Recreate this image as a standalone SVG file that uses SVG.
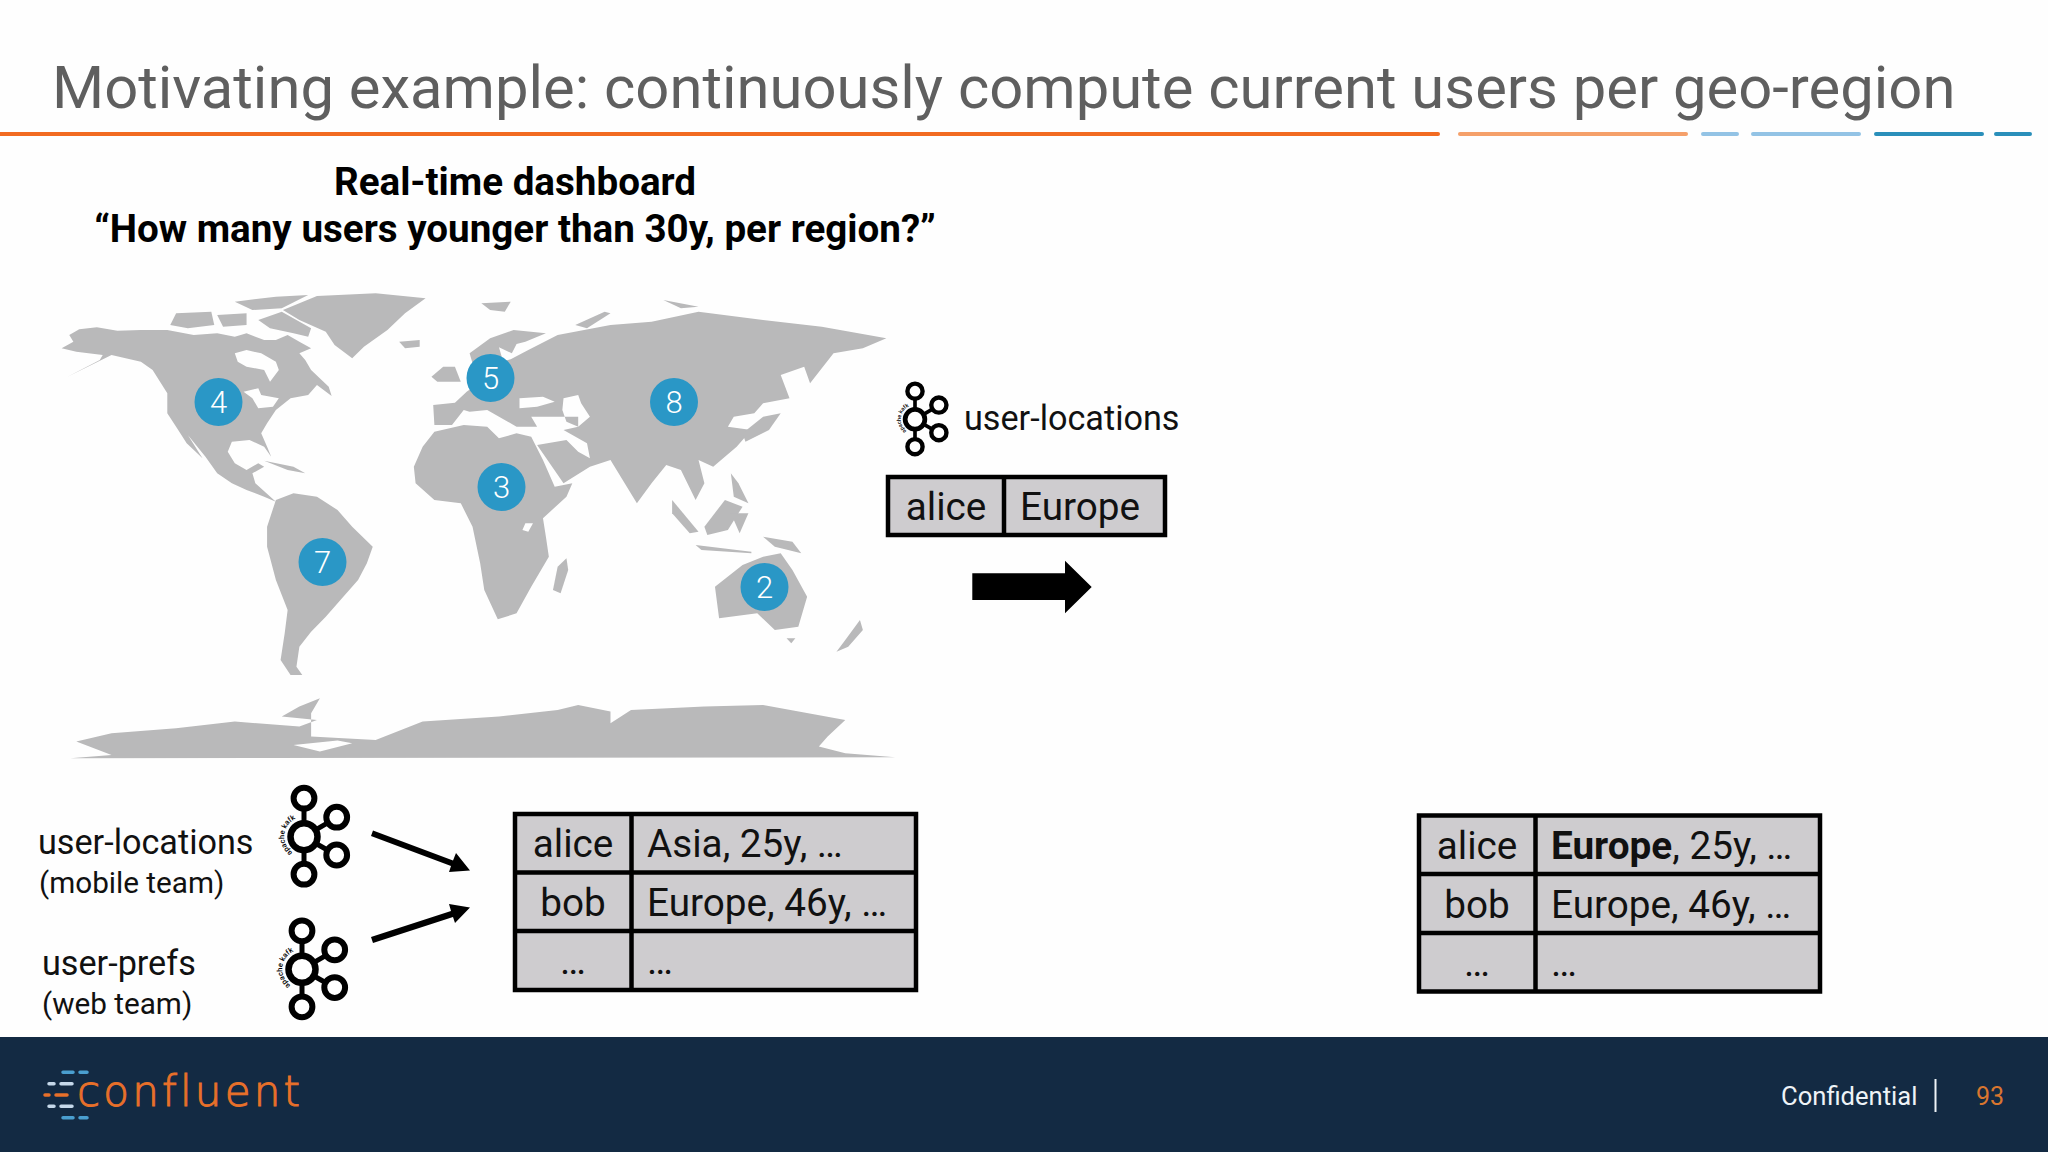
<svg xmlns="http://www.w3.org/2000/svg" width="2048" height="1152" viewBox="0 0 2048 1152">
<style>
text{font-family:Roboto,"Liberation Sans",sans-serif;fill:#111}
.title{font-size:59.750px;fill:#5f5f5f}
.sub{font-size:38.600px;font-weight:700;fill:#000;text-anchor:middle}
.lbl{font-size:34.200px}
.lbl2{font-size:29.700px}
.cell{font-size:38.700px}
.mid{text-anchor:middle}
.tb{fill:#cecccf;stroke:#000;stroke-width:4.500}
.ln{stroke:#000;stroke-width:4.500;fill:none}
.bar{stroke-width:4;stroke-linecap:round;fill:none}
.badge{fill:#2a97c6}
.num{font-size:31px;font-weight:300;fill:#fff;text-anchor:middle}
.k{fill:none;stroke:#000}
.kt{font-size:7.500px;font-weight:500;fill:#000}
.d{stroke-width:3.500;stroke-linecap:round}
</style>
<defs>
<path id="karc" d="M-11.500,16A19.700,19.700 0 0 1 -9,-17.500" fill="none"/>
<g id="kafka">
<path class="k" stroke-width="5" d="M0,-37V37M0,0L32.700,-19M0,0L32.700,18.500"/>
<circle cx="0" cy="0" r="13.500" fill="#fff" stroke="#000" stroke-width="6.500"/>
<circle cx="0" cy="-38.500" r="10.400" fill="#fff" stroke="#000" stroke-width="6"/>
<circle cx="0" cy="37.500" r="10.400" fill="#fff" stroke="#000" stroke-width="6"/>
<circle cx="32.700" cy="-19.500" r="10.400" fill="#fff" stroke="#000" stroke-width="6"/>
<circle cx="32.700" cy="18.300" r="10.400" fill="#fff" stroke="#000" stroke-width="6"/>
<text class="kt"><textPath href="#karc">apache kafka</textPath></text>
</g>
</defs>
<rect width="2048" height="1152" fill="#fefefe"/>
<g id="header">
<text class="title" x="52" y="108">Motivating example: continuously compute current users per geo-region</text>
<path class="bar" stroke="#f26b21" d="M0,134H1438"/>
<path class="bar" stroke="#f5a06a" d="M1460,134H1686"/>
<path class="bar" stroke="#93c3e5" d="M1703,134H1737M1753,134H1859"/>
<path class="bar" stroke="#2a8fba" d="M1876,134H1982M1996,134H2030"/>
</g>
<g id="dashboard-title">
<text class="sub" x="515" y="195">Real-time dashboard</text>
<text class="sub" x="515" y="242">“How many users younger than 30y, per region?”</text>
</g>
<g id="world-map" transform="translate(0,270) scale(0.587,0.3333)" fill="#b9b9ba" fill-rule="evenodd">
<path d="M105,235L125,215L118,195L135,178L165,172L200,182L240,180L285,180L330,195L370,190L400,200L420,190L450,210L470,210L490,195L510,215L530,235L510,250L520,270L530,300L560,350L565,378L540,345L525,375L495,385L470,420L455,460L445,490L455,530L462,560L450,530L425,510L395,515L388,545L400,580L420,600L440,580L450,590L430,610L435,640L470,695L450,680L420,660L395,640L370,610L350,560L320,495L345,565L318,520L300,470L285,430L285,370L260,300L240,275L190,255L115,320L170,270L175,255L130,245ZM400,250L420,240L445,250L470,275L475,300L460,335L450,300L420,290L405,275ZM415,365L440,355L445,375L475,385L465,410L440,415L430,385Z"/>
<path d="M470,690L500,670L540,680L575,720L600,770L635,830L625,880L610,930L580,990L555,1040L530,1085L510,1130L505,1190L515,1215L495,1215L478,1170L485,1090L490,1020L470,930L455,830L455,770Z"/>
<path d="M482,120L540,78L640,70L725,85L690,130L660,180L620,230L600,265L570,225L555,185L510,150Z"/>
<path d="M680,215L715,210L715,230L690,235Z"/>
<path d="M400,95L470,80L525,75L480,115L430,120Z"/>
<path d="M440,150L480,125L530,175L525,200L500,190L460,175Z"/>
<path d="M300,130L360,125L365,165L320,175L290,165Z"/>
<path d="M370,135L420,130L420,165L380,170Z"/>
<path d="M820,100L870,95L860,125L835,120Z"/>
<path d="M1130,90L1190,110L1160,115Z"/>
<path d="M980,165L1030,125L1040,130L1000,175Z"/>
<path d="M450,572L500,590L520,610L490,600Z"/>
<path d="M740,485L790,465L830,470L850,505L880,490L905,500L925,570L945,650L975,640L965,680L925,745L930,800L935,860L905,950L880,1030L848,1048L825,960L818,880L805,770L785,700L740,690L708,640L705,590L720,530ZM895,760L908,760L900,785L890,780Z"/>
<path d="M965,865L968,900L955,970L942,960L950,890Z"/>
<path d="M735,320L755,290L775,290L785,335L745,335Z"/>
<path d="M740,465L738,405L775,398L795,365L815,340L800,250L835,205L875,180L930,190L895,215L880,222L872,250L850,232L855,262L830,285L870,268L900,240L950,195L1040,165L1110,155L1190,125L1300,150L1400,170L1510,205L1470,235L1420,250L1380,340L1370,290L1330,315L1345,385L1300,400L1285,430L1250,440L1240,470L1280,480L1255,530L1215,590L1190,570L1200,640L1185,690L1160,600L1135,585L1110,640L1085,700L1040,570L1005,590L960,640L915,525L965,510L985,545L1005,565L1000,520L960,480L985,470L985,440L905,440L915,470L880,470L855,445L880,470L830,420L800,425L790,420L770,465ZM885,385L925,380L945,395L915,410L885,415ZM960,385L985,375L990,400L1005,440L985,470L965,455L958,420Z"/>
<path d="M1265,490L1300,440L1330,430L1310,480L1270,515Z"/>
<path d="M1145,690L1190,785L1175,790L1145,730Z"/>
<path d="M1200,770L1235,690L1265,710L1240,780L1205,795Z"/>
<path d="M1245,730L1275,730L1260,790Z"/>
<path d="M1300,800L1350,815L1365,850L1320,830Z"/>
<path d="M1185,825L1280,845L1280,850L1195,840Z"/>
<path d="M1245,610L1258,640L1275,700L1250,680Z"/>
<path d="M1218,950L1265,885L1300,860L1330,850L1350,900L1375,980L1360,1070L1320,1080L1290,1030L1225,1045Z"/>
<path d="M1340,1105L1355,1105L1348,1120Z"/>
<path d="M1465,1050L1470,1080L1445,1130L1425,1145L1440,1110Z"/>
<path d="M130,1415L190,1390L300,1375L400,1355L510,1370L540,1350L480,1340L510,1310L545,1285L530,1330L530,1400L640,1410L720,1355L850,1340L950,1320L985,1305L1040,1325L1040,1360L1075,1320L1200,1310L1300,1305L1440,1350L1410,1400L1395,1430L1440,1450L1525,1462L120,1465L190,1455L160,1435ZM500,1425L575,1412L600,1420L545,1445Z"/>
</g>
<g id="badge-4"><circle class="badge" cx="218.500" cy="402" r="24"/><text class="num" x="218.500" y="413">4</text></g>
<g id="badge-5"><circle class="badge" cx="490.500" cy="378" r="24"/><text class="num" x="490.500" y="389">5</text></g>
<g id="badge-8"><circle class="badge" cx="674" cy="402" r="24"/><text class="num" x="674" y="413">8</text></g>
<g id="badge-3"><circle class="badge" cx="501.500" cy="487" r="24"/><text class="num" x="501.500" y="498">3</text></g>
<g id="badge-7"><circle class="badge" cx="322.500" cy="562" r="24"/><text class="num" x="322.500" y="573">7</text></g>
<g id="badge-2"><circle class="badge" cx="764.500" cy="587" r="24"/><text class="num" x="764.500" y="598">2</text></g>
<g id="event">
<use href="#kafka" transform="translate(915,419.300) scale(0.73)"/>
<text class="lbl" x="964" y="430">user-locations</text>
<rect class="tb" x="888" y="477" width="277" height="58"/>
<path class="ln" d="M1004,477V535"/>
<text class="cell mid" x="946" y="520">alice</text>
<text class="cell" x="1020" y="520">Europe</text>
</g>
<g id="topic-user-locations">
<use href="#kafka" transform="translate(304,836.700)"/>
<text class="lbl" x="38" y="854">user-locations</text>
<text class="lbl2" x="39" y="893">(mobile team)</text>
</g>
<g id="topic-user-prefs">
<use href="#kafka" transform="translate(302,969.300)"/>
<text class="lbl" x="42" y="975">user-prefs</text>
<text class="lbl2" x="42" y="1014">(web team)</text>
</g>
<g id="table-before">
<rect class="tb" x="515" y="814" width="401" height="176"/>
<path class="ln" d="M631.500,814V990M515,872.500H916M515,931H916"/>
<text class="cell mid" x="573" y="857">alice</text>
<text class="cell" x="647" y="857">Asia, 25y, …</text>
<text class="cell mid" x="573" y="916">bob</text>
<text class="cell" x="647" y="916">Europe, 46y, …</text>
<text class="cell mid" x="573" y="974">…</text>
<text class="cell" x="647" y="974">…</text>
</g>
<g id="table-after">
<rect class="tb" x="1419" y="815.500" width="401" height="176"/>
<path class="ln" d="M1535.500,815.500V991.500M1419,874H1820M1419,933H1820"/>
<text class="cell mid" x="1477" y="859">alice</text>
<text class="cell" x="1551" y="859"><tspan font-weight="700">Europe</tspan>, 25y, …</text>
<text class="cell mid" x="1477" y="918">bob</text>
<text class="cell" x="1551" y="918">Europe, 46y, …</text>
<text class="cell mid" x="1477" y="976">…</text>
<text class="cell" x="1551" y="976">…</text>
</g>
<g id="connectors">
<path fill="#000" d="M373,830.500L453,860.500L456,853L470,870.500L449,872L451,866L371,836Z"/>
<path fill="#000" d="M371,937L451,911L449,904L470,907.500L455,923L453,917L373,943Z"/>
<path fill="#000" d="M972.300,573.300H1065V560.700L1091.700,587L1065,613.300V600H972.300Z"/>
</g>
<g id="footer">
<rect y="1037" width="2048" height="115" fill="#132a43"/>
<g class="d" stroke="#4a9fd0"><path d="M63,1072.300H73M80,1072.300H87M63,1117.700H73M80,1117.700H87"/></g>
<g class="d" stroke="#c5d8ea"><path d="M49,1083.700H54M61,1083.700H72M49,1106.300H54M61,1106.300H72"/></g>
<g class="d" stroke="#e8702a"><path d="M45,1095H49M56,1095H67"/></g>
<text x="77" y="1106" font-size="42" letter-spacing="3.200" stroke="#e8702a" stroke-width="1" style="font-family:'DejaVu Sans',sans-serif;font-weight:200;fill:#e8702a">confluent</text>
<text x="1781" y="1105" font-size="25.600" style="fill:#eef3f7">Confidential</text>
<path d="M1935.500,1079V1112" stroke="#eef3f7" stroke-width="2"/>
<text x="1976" y="1105" font-size="25" style="fill:#d9762f">93</text>
</g>
</svg>
